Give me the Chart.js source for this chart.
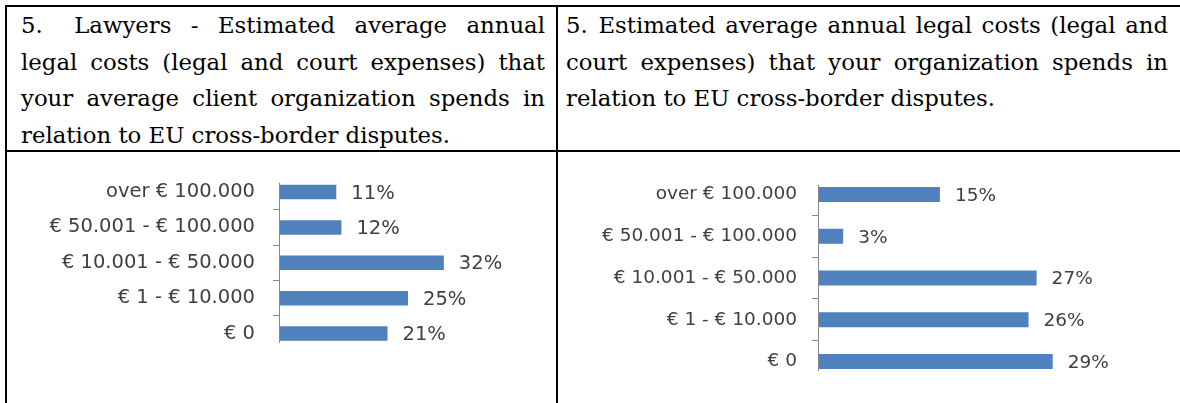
<!DOCTYPE html>
<html><head><meta charset="utf-8">
<script src="https://cdn.jsdelivr.net/npm/chart.js@4/dist/chart.umd.min.js"></script>
<style>
html,body{margin:0;padding:0;background:#fff;}
body{width:1180px;height:403px;position:relative;overflow:hidden;}
.ln{position:absolute;background:#000;}
.txt{position:absolute;font-family:"DejaVu Serif";font-size:22.8px;line-height:36.5px;color:#000;}
.txt div{white-space:nowrap;height:36.5px;}
.txt div.j{text-align:justify;text-align-last:justify;}
.sp{display:inline-block;}
canvas{position:absolute;}
</style></head>
<body>
<div class="ln" style="left:5px;top:5px;width:1175px;height:2px"></div>
<div class="ln" style="left:5px;top:150px;width:1175px;height:2px"></div>
<div class="ln" style="left:5px;top:5px;width:2px;height:398px"></div>
<div class="ln" style="left:556px;top:5px;width:2px;height:398px"></div>

<div class="txt" style="left:21px;top:7px;width:524px">
  <div class="j">5.<span class="sp" style="width:12px"></span> Lawyers - Estimated average annual</div>
  <div class="j">legal costs (legal and court expenses) that</div>
  <div class="j">your average client organization spends in</div>
  <div>relation to EU cross-border disputes.</div>
</div>
<div class="txt" style="left:566px;top:7px;width:602px">
  <div class="j">5.<span class="sp" style="width:1px"></span> Estimated average annual legal costs (legal and</div>
  <div class="j">court expenses) that your organization spends in</div>
  <div>relation to EU cross-border disputes.</div>
</div>

<canvas id="c1" width="549" height="251" style="left:7px;top:152px;width:549px;height:251px"></canvas>
<canvas id="c2" width="621" height="251" style="left:559px;top:152px;width:621px;height:251px"></canvas>

<script>
const leftCategories = ['over € 100.000', '€ 50.001 - € 100.000', '€ 10.001 - € 50.000', '€ 1 - € 10.000', '€ 0'];
const leftValues = [11, 12, 32, 25, 21];
const rightCategories = ['over € 100.000', '€ 50.001 - € 100.000', '€ 10.001 - € 50.000', '€ 1 - € 10.000', '€ 0'];
const rightValues = [15, 3, 27, 26, 29];
const valueSuffix = '%';

const BAR = '#4F81BD';
const TEXT = '#404040';
const AXIS = '#888888';

const valueLabels = {
  id: 'valueLabels',
  afterDatasetsDraw(chart, args, opts) {
    const ctx = chart.ctx;
    const meta = chart.getDatasetMeta(0);
    const data = chart.data.datasets[0].data;
    ctx.save();
    const first = meta.data[0], last = meta.data[meta.data.length - 1];
    const ax = Math.round(chart.chartArea.left) - 0.5;
    ctx.strokeStyle = AXIS;
    ctx.lineWidth = 1;
    ctx.beginPath();
    ctx.moveTo(ax, first.y - first.height / 2 - 2);
    ctx.lineTo(ax, last.y + last.height / 2 + 2);
    ctx.stroke();
    ctx.font = opts.size + 'px "DejaVu Sans"';
    ctx.fillStyle = TEXT;
    ctx.textAlign = 'left';
    ctx.textBaseline = 'middle';
    meta.data.forEach((bar, i) => {
      ctx.fillText(data[i] + valueSuffix, bar.x + 15, bar.y + 1.5);
    });
    ctx.restore();
  }
};

function makeChart(id, cats, vals, o) {
  return new Chart(document.getElementById(id), {
    type: 'bar',
    data: {
      labels: cats,
      datasets: [{
        data: vals,
        backgroundColor: BAR,
        borderWidth: 0,
        categoryPercentage: 1,
        barPercentage: o.barPct
      }]
    },
    options: {
      indexAxis: 'y',
      responsive: false,
      animation: false,
      devicePixelRatio: 1,
      layout: { padding: o.pad },
      plugins: {
        legend: { display: false },
        tooltip: { enabled: false },
        valueLabels: { size: o.font }
      },
      scales: {
        x: { display: false, min: 0, max: 40 },
        y: {
          type: 'category',
          offset: true,
          afterFit(scale) {
            scale.width = o.axisX;
            scale.paddingTop = 0;
            scale.paddingBottom = 0;
          },
          border: { display: false },
          grid: {
            offset: true,
            drawOnChartArea: false,
            drawTicks: true,
            tickLength: 7,
            lineWidth: 1,
            color: (c) => (c.index === undefined || c.index === 0) ? 'rgba(0,0,0,0)' : AXIS
          },
          ticks: {
            color: TEXT,
            padding: o.tickPad,
            font: { family: 'DejaVu Sans', size: o.font }
          }
        }
      }
    },
    plugins: [valueLabels]
  });
}

makeChart('c1', leftCategories, leftValues, {
  axisX: 273, font: 19.5, tickPad: 18, barPct: 0.41,
  pad: { left: 0, right: 71.2, top: 22.3, bottom: 51.7 }
});
makeChart('c2', rightCategories, rightValues, {
  axisX: 260, font: 18.5, tickPad: 15, barPct: 0.36,
  pad: { left: 0, right: 38.6, top: 21.6, bottom: 20.6 }
});
</script>
</body></html>
